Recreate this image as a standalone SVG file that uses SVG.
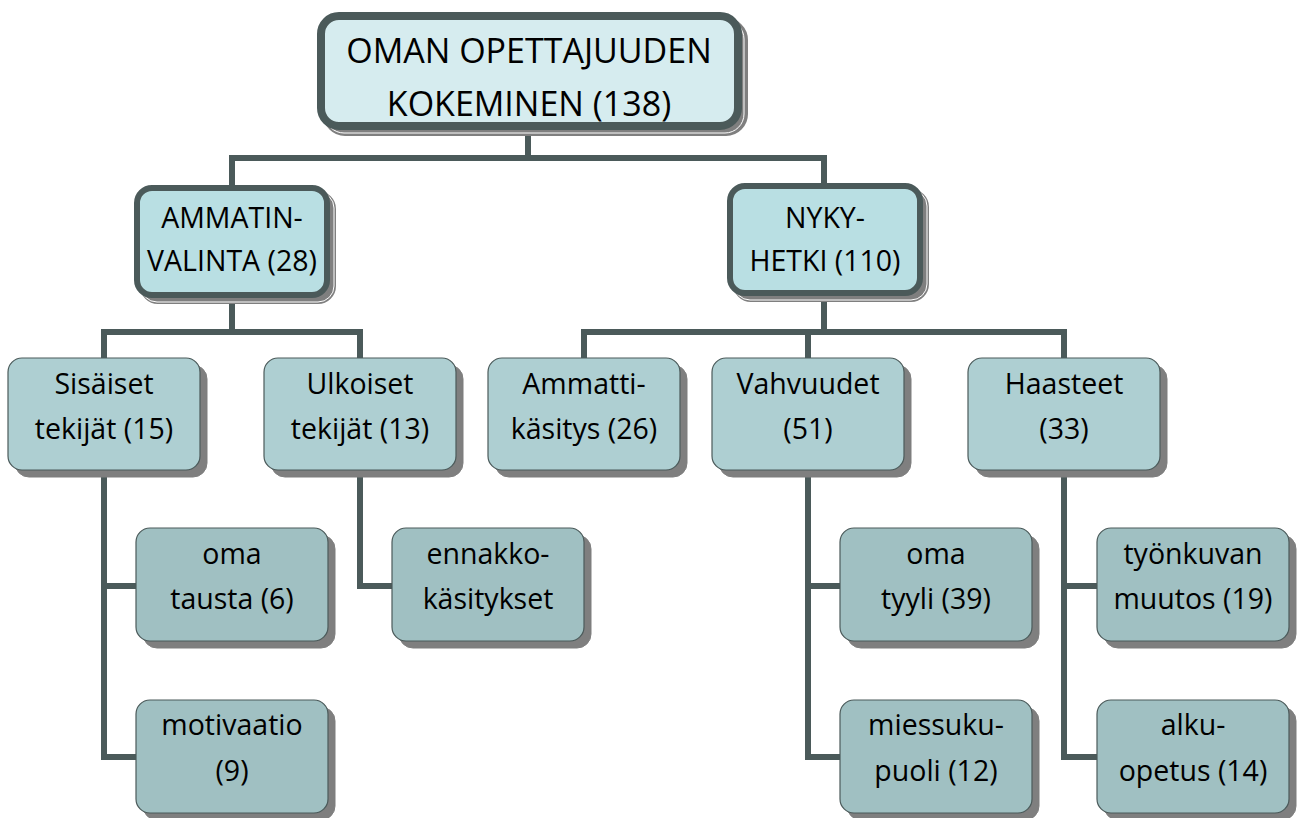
<svg xmlns="http://www.w3.org/2000/svg" width="1298" height="818" viewBox="0 0 1298 818">
<style>
text{font-family:"Open Sans","Liberation Sans",sans-serif;fill:#000;text-anchor:middle}
.t0{font-size:34px}
.t{font-size:28.5px}
.conn{fill:none;stroke:#4b5a5a;stroke-width:6;stroke-linejoin:miter;stroke-linecap:butt}
.sh{fill:#7f7f7f;stroke:#7f7f7f}
.shl{fill:none;stroke:#ffffff;stroke-width:1}
.b0{fill:#d6ecef;stroke:#4b5a5a;stroke-width:8}
.b1{fill:#b9dfe3;stroke:#4b5a5a;stroke-width:6}
.b2{fill:#aecfd2;stroke:#4b5a5a;stroke-width:1.2}
.b3{fill:#a0c0c2;stroke:#4b5a5a;stroke-width:1.2}
</style>
<g id="connectors">
<path class="conn" d="M528,128 V158 M232,158 H824 M232,155 V188 M824,155 V186"/>
<path class="conn" d="M232,296 V332 M104,332 H360 M104,329 V358 M360,329 V358"/>
<path class="conn" d="M824,298 V332 M584,332 H1064 M584,329 V358 M808,329 V358 M1064,329 V358"/>
<path class="conn" d="M104,470 V757 H137 M101,586 H137"/>
<path class="conn" d="M360,470 V586 H393"/>
<path class="conn" d="M808,470 V757 H841 M805,586 H841"/>
<path class="conn" d="M1064,470 V757 H1098 M1061,586 H1098"/>
</g>
<g id="n-top">
<rect class="sh" x="327" y="22" width="417" height="110" rx="18" stroke-width="8"/>
<rect class="shl" x="325" y="20" width="419" height="113" rx="19"/>
<rect class="b0" x="321" y="16" width="417" height="110" rx="18"/>
<text class="t0" x="529" y="63">OMAN OPETTAJUUDEN</text>
<text class="t0" x="529" y="116">KOKEMINEN (138)</text>
</g>
<g id="n-ammatinvalinta">
<rect class="sh" x="143" y="194" width="190" height="107" rx="15" stroke-width="6"/>
<rect class="shl" x="141" y="192" width="193" height="110" rx="16"/>
<rect class="b1" x="137" y="188" width="190" height="107" rx="15"/>
<text class="t" x="232" y="228">AMMATIN-</text>
<text class="t" x="232" y="271">VALINTA (28)</text>
</g>
<g id="n-nykyhetki">
<rect class="sh" x="736" y="192" width="190" height="107" rx="15" stroke-width="6"/>
<rect class="shl" x="734" y="190" width="193" height="110" rx="16"/>
<rect class="b1" x="730" y="186" width="190" height="107" rx="15"/>
<text class="t" x="825" y="228">NYKY-</text>
<text class="t" x="825" y="271">HETKI (110)</text>
</g>
<g id="n-sisaiset">
<rect class="sh" x="15" y="365" width="192" height="112" rx="14"/>
<rect class="b2" x="8" y="358" width="192" height="112" rx="14"/>
<text class="t" x="104" y="394">Sisäiset</text>
<text class="t" x="104" y="439">tekijät (15)</text>
</g>
<g id="n-ulkoiset">
<rect class="sh" x="271" y="365" width="192" height="112" rx="14"/>
<rect class="b2" x="264" y="358" width="192" height="112" rx="14"/>
<text class="t" x="360" y="394">Ulkoiset</text>
<text class="t" x="360" y="439">tekijät (13)</text>
</g>
<g id="n-ammattikasitys">
<rect class="sh" x="495" y="365" width="192" height="112" rx="14"/>
<rect class="b2" x="488" y="358" width="192" height="112" rx="14"/>
<text class="t" x="584" y="394">Ammatti-</text>
<text class="t" x="584" y="439">käsitys (26)</text>
</g>
<g id="n-vahvuudet">
<rect class="sh" x="719" y="365" width="192" height="112" rx="14"/>
<rect class="b2" x="712" y="358" width="192" height="112" rx="14"/>
<text class="t" x="808" y="394">Vahvuudet</text>
<text class="t" x="808" y="439">(51)</text>
</g>
<g id="n-haasteet">
<rect class="sh" x="975" y="365" width="192" height="112" rx="14"/>
<rect class="b2" x="968" y="358" width="192" height="112" rx="14"/>
<text class="t" x="1064" y="394">Haasteet</text>
<text class="t" x="1064" y="439">(33)</text>
</g>
<g id="n-omatausta">
<rect class="sh" x="143" y="535" width="192" height="113" rx="14"/>
<rect class="b3" x="136" y="528" width="192" height="113" rx="14"/>
<text class="t" x="232" y="564">oma</text>
<text class="t" x="232" y="609">tausta (6)</text>
</g>
<g id="n-motivaatio">
<rect class="sh" x="143" y="707" width="192" height="113" rx="14"/>
<rect class="b3" x="136" y="700" width="192" height="113" rx="14"/>
<text class="t" x="232" y="735">motivaatio</text>
<text class="t" x="232" y="781">(9)</text>
</g>
<g id="n-ennakko">
<rect class="sh" x="399" y="535" width="192" height="113" rx="14"/>
<rect class="b3" x="392" y="528" width="192" height="113" rx="14"/>
<text class="t" x="488" y="564">ennakko-</text>
<text class="t" x="488" y="609">käsitykset</text>
</g>
<g id="n-omatyyli">
<rect class="sh" x="847" y="535" width="192" height="113" rx="14"/>
<rect class="b3" x="840" y="528" width="192" height="113" rx="14"/>
<text class="t" x="936" y="564">oma</text>
<text class="t" x="936" y="609">tyyli (39)</text>
</g>
<g id="n-miessukupuoli">
<rect class="sh" x="847" y="707" width="192" height="113" rx="14"/>
<rect class="b3" x="840" y="700" width="192" height="113" rx="14"/>
<text class="t" x="936" y="735">miessuku-</text>
<text class="t" x="936" y="781">puoli (12)</text>
</g>
<g id="n-tyonkuvan">
<rect class="sh" x="1104" y="535" width="192" height="113" rx="14"/>
<rect class="b3" x="1097" y="528" width="192" height="113" rx="14"/>
<text class="t" x="1193" y="564">työnkuvan</text>
<text class="t" x="1193" y="609">muutos (19)</text>
</g>
<g id="n-alkuopetus">
<rect class="sh" x="1104" y="707" width="192" height="113" rx="14"/>
<rect class="b3" x="1097" y="700" width="192" height="113" rx="14"/>
<text class="t" x="1193" y="735">alku-</text>
<text class="t" x="1193" y="781">opetus (14)</text>
</g>
</svg>
